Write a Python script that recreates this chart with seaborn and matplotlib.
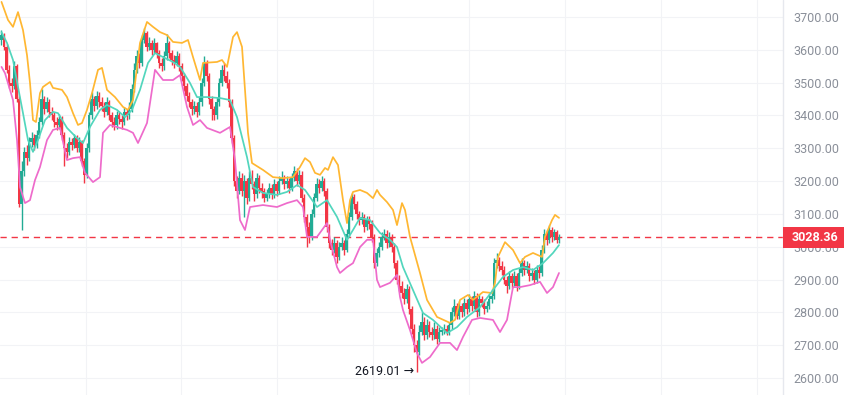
import numpy as np
import pandas as pd
import seaborn as sns
import matplotlib
matplotlib.use("Agg")
import matplotlib.pyplot as plt
from matplotlib.patches import Rectangle
import matplotlib.transforms as mtransforms

# ---------------- data ----------------
first_open = 3630
closes = [
    3645, 3610, 3540, 3500, 3490, 3550, 3450, 3130, 3230, 3290, 3270, 3320,
    3330, 3310, 3340, 3380, 3450, 3420, 3440, 3410, 3400, 3380, 3370, 3390,
    3340, 3300, 3290, 3320, 3310, 3330, 3300, 3320, 3260, 3220, 3300, 3400,
    3450, 3430, 3460, 3440, 3430, 3410, 3440, 3400, 3380, 3370, 3400, 3390,
    3380, 3410, 3400, 3420, 3480, 3540, 3580, 3560, 3630, 3650, 3610, 3620,
    3600, 3620, 3590, 3560, 3550, 3580, 3620, 3590, 3570, 3560, 3580, 3550,
    3520, 3490, 3460, 3440, 3420, 3430, 3410, 3440, 3500, 3560, 3520, 3450,
    3420, 3400, 3440, 3500, 3540, 3520, 3500, 3440, 3330, 3200, 3170, 3210,
    3170, 3200, 3150, 3210, 3190, 3160, 3210, 3180, 3170, 3150, 3160, 3180,
    3160, 3190, 3170, 3200, 3210, 3190, 3200, 3180, 3210, 3230, 3200, 3220,
    3150, 3090, 3060, 3030, 3100, 3150, 3190, 3180, 3200, 3170, 3060, 3010,
    2990, 3010, 2970, 3000, 3010, 2990, 3040, 3090, 3150, 3130, 3100, 3080,
    3090, 3060, 3080, 3070, 3030, 2950, 2980, 3000, 3030, 3040, 3010, 3030,
    3000, 2950, 2900, 2880, 2860, 2840, 2870, 2810, 2750, 2700, 2680, 2740,
    2770, 2730, 2760, 2740, 2730, 2750, 2720, 2740, 2745, 2750, 2740, 2760,
    2800, 2820, 2790, 2820, 2800, 2830, 2810, 2840, 2820, 2850, 2800, 2840,
    2830, 2810, 2820, 2840, 2850, 2950, 2960, 2940, 2930, 2900, 2880, 2910,
    2890, 2910, 2880, 2920, 2950, 2930, 2940, 2910, 2920, 2900, 2930, 2920,
    2990, 3040, 3020, 3050, 3030, 3045, 3020, 3028.36,
]
highs = [
    3660, 3652, 3618, 3555, 3515, 3565, 3558, 3460, 3260, 3305, 3310, 3335,
    3350, 3345, 3355, 3395, 3480, 3460, 3455, 3450, 3425, 3410, 3395, 3405,
    3398, 3350, 3315, 3335, 3330, 3345, 3340, 3335, 3325, 3270, 3315, 3410,
    3470, 3460, 3475, 3470, 3455, 3440, 3455, 3448, 3410, 3395, 3415, 3410,
    3400, 3425, 3420, 3440, 3495, 3560, 3600, 3590, 3645, 3665, 3658, 3640,
    3630, 3635, 3625, 3600, 3575, 3595, 3648, 3628, 3600, 3585, 3595, 3590,
    3560, 3530, 3500, 3470, 3450, 3445, 3440, 3455, 3515, 3580, 3570, 3530,
    3460, 3430, 3455, 3515, 3555, 3560, 3535, 3510, 3450, 3340, 3215, 3230,
    3225, 3220, 3210, 3230, 3235, 3200, 3225, 3220, 3195, 3180, 3175, 3195,
    3190, 3205, 3200, 3215, 3230, 3220, 3215, 3210, 3225, 3245, 3240, 3235,
    3230, 3160, 3100, 3075, 3115, 3165, 3210, 3205, 3215, 3210, 3180, 3070,
    3025, 3030, 3020, 3015, 3030, 3020, 3055, 3105, 3165, 3160, 3140, 3110,
    3105, 3100, 3095, 3095, 3080, 3040, 2995, 3015, 3045, 3055, 3050, 3045,
    3040, 3010, 2960, 2915, 2895, 2875, 2885, 2880, 2820, 2765, 2715, 2760,
    2800, 2785, 2780, 2775, 2755, 2770, 2760, 2755, 2755, 2765, 2760, 2770,
    2815, 2840, 2830, 2835, 2830, 2845, 2840, 2855, 2850, 2865, 2860, 2855,
    2850, 2840, 2835, 2855, 2870, 2965, 2980, 2970, 2955, 2940, 2910, 2925,
    2920, 2925, 2920, 2935, 2965, 2960, 2955, 2950, 2935, 2930, 2945, 2940,
    3005, 3055, 3050, 3065, 3060, 3055, 3050, 3040,
]
lows = [
    3615, 3600, 3530, 3485, 3470, 3480, 3440, 3120, 3050, 3215, 3250, 3260,
    3305, 3295, 3300, 3330, 3370, 3405, 3410, 3395, 3385, 3365, 3355, 3360,
    3325, 3245, 3270, 3280, 3295, 3300, 3290, 3290, 3245, 3195, 3210, 3290,
    3390, 3415, 3420, 3425, 3415, 3395, 3400, 3385, 3365, 3355, 3360, 3375,
    3360, 3370, 3385, 3390, 3410, 3470, 3530, 3545, 3550, 3620, 3595, 3600,
    3585, 3590, 3575, 3545, 3535, 3540, 3570, 3575, 3555, 3545, 3550, 3535,
    3505, 3475, 3445, 3425, 3400, 3405, 3395, 3400, 3430, 3490, 3505, 3435,
    3385, 3385, 3390, 3430, 3490, 3505, 3485, 3425, 3315, 3185, 3150, 3160,
    3155, 3090, 3130, 3140, 3175, 3140, 3150, 3165, 3150, 3135, 3140, 3150,
    3145, 3150, 3155, 3160, 3190, 3175, 3180, 3165, 3170, 3200, 3185, 3190,
    3135, 3075, 3000, 3010, 3020, 3090, 3140, 3165, 3170, 3155, 3045, 2995,
    2975, 2980, 2950, 2960, 2990, 2975, 2985, 3030, 3080, 3115, 3085, 3065,
    3070, 3045, 3050, 3055, 3015, 2935, 2940, 2970, 2990, 3020, 2995, 3000,
    2985, 2935, 2885, 2865, 2845, 2825, 2830, 2795, 2735, 2680, 2619.01, 2670,
    2730, 2715, 2720, 2725, 2715, 2720, 2705, 2710, 2730, 2735, 2730, 2730,
    2750, 2790, 2780, 2780, 2785, 2790, 2795, 2800, 2805, 2810, 2785, 2790,
    2815, 2795, 2800, 2810, 2830, 2840, 2935, 2925, 2915, 2885, 2860, 2870,
    2875, 2880, 2865, 2870, 2910, 2915, 2920, 2895, 2900, 2885, 2890, 2905,
    2910, 2980, 3005, 3010, 3015, 3020, 3010, 3012,
]

# Bollinger band readings: (candle index, price)
upper_t = [0, 2.6, 4.6, 6.6, 8.6, 10.2, 11.4, 12.6, 13.8, 15.4, 16.6, 19.4, 20.6,
           24.2, 26.2, 28.6, 30.6, 32.2, 34.2, 36.2, 38.6, 40.2, 42.2, 45.4, 48.6,
           50.6, 52.6, 55.4, 58.2, 60.6, 63.4, 66.2, 68.6, 72.2, 74.6, 76.6, 79.4,
           80.6, 86.2, 88.2, 90.2, 92.6, 94.2, 96.2, 98.6, 100.2, 104.6, 108.6,
           112.6, 116.6, 119.4, 121.4, 123.4, 125.4, 127.4, 129.4, 130.6, 132.6,
           134.6, 136.6, 138.2, 139.4, 140.6, 143.4, 146.2, 148.6, 150.2, 151.4,
           154.2, 156.6, 158.2, 160.2, 161.4, 163.4, 167.4, 170.2, 174.2, 179.4,
           181.4, 183.4, 186.6, 188.6, 192.6, 196.2, 197.4, 198.6, 201.4, 204.6,
           207.4, 209.4, 212.6, 216.2, 217.4, 220.2, 221.4, 223]
upper_v = [3746, 3691, 3670, 3715, 3660, 3584, 3499, 3386, 3380, 3468, 3487, 3502,
           3484, 3478, 3456, 3407, 3371, 3377, 3417, 3468, 3539, 3545, 3478, 3456,
           3426, 3417, 3447, 3621, 3685, 3670, 3654, 3645, 3624, 3621, 3630, 3578,
           3508, 3560, 3563, 3569, 3548, 3639, 3654, 3609, 3347, 3255, 3234, 3212,
           3209, 3212, 3243, 3270, 3258, 3225, 3219, 3240, 3234, 3273, 3249, 3142,
           3072, 3142, 3167, 3173, 3164, 3148, 3173, 3158, 3136, 3112, 3066, 3133,
           3112, 3030, 2920, 2838, 2786, 2768, 2777, 2838, 2853, 2838, 2862, 2859,
           2890, 2969, 3014, 2990, 2950, 2969, 2981, 2969, 3030, 3081, 3097, 3088]

middle_t = [0, 2.2, 4.6, 6.6, 8.6, 10.6, 12.6, 14.6, 17.4, 20.6, 22.6, 26.2, 30.2,
            32.6, 35.4, 39.4, 42.2, 46.2, 49.4, 52.2, 55.4, 58.6, 61.4, 64.6, 68.6,
            71.4, 75.4, 78.2, 82.2, 87.4, 91.4, 94.2, 98.2, 100.6, 104.6, 110.2,
            114.2, 118.2, 121.4, 126.2, 130.2, 134.2, 138.2, 140.6, 143.4, 147.4,
            151.4, 155.4, 158.2, 160.6, 164.6, 168.6, 172.6, 178.2, 182.2, 186.2,
            191.4, 196.6, 200.6, 204.6, 208.6, 212.6, 216.6, 220.6, 223]
middle_v = [3654, 3621, 3569, 3487, 3407, 3325, 3289, 3325, 3386, 3411, 3407, 3362,
            3331, 3316, 3365, 3417, 3432, 3417, 3395, 3417, 3478, 3560, 3590, 3578,
            3563, 3548, 3499, 3456, 3456, 3453, 3447, 3395, 3273, 3182, 3164, 3158,
            3167, 3188, 3173, 3121, 3142, 3091, 3021, 3051, 3088, 3081, 3042, 3021,
            2999, 2938, 2868, 2798, 2777, 2737, 2755, 2786, 2816, 2868, 2908, 2929,
            2938, 2929, 2950, 2981, 3005]

lower_t = [0, 1.4, 4.6, 6.2, 7.4, 9.4, 11.4, 13.4, 15.4, 18.2, 20.6, 23.4, 26.2,
           28.6, 31.4, 33.4, 36.6, 39.4, 40.6, 43.4, 47.4, 50.2, 52.6, 54.6, 58.2,
           61.4, 64.6, 68.6, 71.4, 74.2, 76.6, 79.4, 82.2, 87.4, 91.4, 93.4, 95.4,
           97.4, 99.4, 104.6, 110.2, 114.2, 118.2, 120.6, 122.2, 126.2, 130.2,
           131.4, 134.2, 135.4, 138.2, 140.6, 143.4, 146.2, 148.6, 150.2, 151.4,
           155.4, 158.2, 159.4, 160.6, 163.4, 166.2, 168.2, 171.4, 175.4, 179.4,
           182.2, 184.6, 188.2, 191.4, 196.6, 199.4, 202.2, 204.6, 207.4, 211.4,
           215.4, 218.2, 220.6, 223]
lower_v = [3548, 3529, 3447, 3325, 3182, 3133, 3142, 3203, 3243, 3325, 3356, 3362,
           3264, 3270, 3273, 3225, 3197, 3212, 3347, 3371, 3362, 3356, 3347, 3316,
           3377, 3539, 3508, 3508, 3523, 3426, 3371, 3386, 3362, 3347, 3365, 3264,
           3081, 3051, 3121, 3127, 3121, 3133, 3142, 3121, 3030, 3030, 3072, 3021,
           2938, 2920, 2938, 2950, 2999, 3021, 3021, 2899, 2877, 2890, 2914, 2847,
           2807, 2746, 2676, 2646, 2664, 2707, 2707, 2685, 2725, 2777, 2783, 2777,
           2740, 2777, 2877, 2877, 2883, 2893, 2859, 2877, 2920]

last_price = 3028.36
low_price = 2619.01
low_label = "2619.01 →"
price_ticks = [2600, 2700, 2800, 2900, 3000, 3100, 3200, 3300, 3400, 3500, 3600, 3700]

# ---------------- styling ----------------
sns.set_theme(style="white")
plt.rcParams["font.family"] = ["Roboto", "DejaVu Sans"]

UP = "#22ab94"
DOWN = "#f23645"
C_UP = "#ffb732"
C_MID = "#52d6bd"
C_LOW = "#ee6bcb"
GRID = "#f2f3f6"
TXT = "#8a8f99"

n = len(closes)
idx = np.arange(n)
opens = [first_open] + closes[:-1]
df = pd.DataFrame({"i": idx, "open": opens, "high": highs, "low": lows, "close": closes})
df["up"] = df["close"] >= df["open"]

up_df = pd.DataFrame({"t": upper_t, "v": upper_v})
mid_df = pd.DataFrame({"t": middle_t, "v": middle_v})
low_df = pd.DataFrame({"t": lower_t, "v": lower_v})

fig = plt.figure(figsize=(8.45, 3.95), dpi=100)
ax = fig.add_axes([0, 0, 783 / 845, 1])

# x scale: candle spacing ~2.5 px
px_per = 2.5
x0 = -1.5 / px_per
ax.set_xlim(x0, x0 + 783 / px_per)
ax.set_ylim(2600 - 17 * 3.047, 3700 + 17 * 3.047)

# grid
for p in price_ticks:
    ax.axhline(p, color=GRID, lw=0.8, zorder=0)
grid_x = [(gx - 1.5) / px_per for gx in (86, 181, 277, 373, 469, 565, 661, 757)]
for gx in grid_x:
    ax.axvline(gx, color=GRID, lw=0.8, zorder=0)

# candles
colors = np.where(df["up"], UP, DOWN)
ax.vlines(df["i"], df["low"], df["high"], colors=colors, lw=1.0, zorder=3)
body_lo = np.minimum(df["open"], df["close"])
body_h = np.maximum(np.abs(df["close"] - df["open"]), 3)
ax.bar(df["i"], body_h, bottom=body_lo, width=0.85, color=colors, linewidth=0, zorder=3)

# bollinger bands
kw = dict(lw=1.25, zorder=4, sort=False)
sns.lineplot(data=up_df, x="t", y="v", ax=ax, color=C_UP, **kw)
sns.lineplot(data=mid_df, x="t", y="v", ax=ax, color=C_MID, **kw)
sns.lineplot(data=low_df, x="t", y="v", ax=ax, color=C_LOW, **kw)
for line in ax.get_lines():
    line.set_solid_joinstyle("round")

# last price line
ax.axhline(last_price, color=DOWN, lw=1.0, ls=(0, (4.5, 3.5)), zorder=2)

# min annotation
low_i = int(np.argmin(lows))
ax.text(low_i - 0.9, low_price, low_label, ha="right", va="center",
        fontsize=9, color="#131722", zorder=6)

# axes
for s in ax.spines.values():
    s.set_visible(False)
ax.axvline(ax.get_xlim()[1], color="#e6e8ee", lw=1.0, clip_on=False)
ax.set_xticks([])
ax.yaxis.tick_right()
ax.set_yticks(price_ticks)
ax.set_yticklabels([f"{p:.2f}" for p in price_ticks])
ax.tick_params(axis="y", length=0, pad=7.5, labelsize=9, labelcolor=TXT)
ax.set_xlabel("")
ax.set_ylabel("")

# price label box
trans = mtransforms.blended_transform_factory(ax.transAxes, ax.transData)
ax.add_patch(Rectangle((1.0, last_price - 31), 0.09, 62, transform=trans,
                       facecolor=DOWN, edgecolor="none", clip_on=False, zorder=10))
ax.text(1.0 + 9 / 783, last_price, f"{last_price:.2f}", transform=trans,
        ha="left", va="center", fontsize=9, color="white", fontweight="bold",
        zorder=11, clip_on=False)

fig.savefig("out.png", dpi=100)
